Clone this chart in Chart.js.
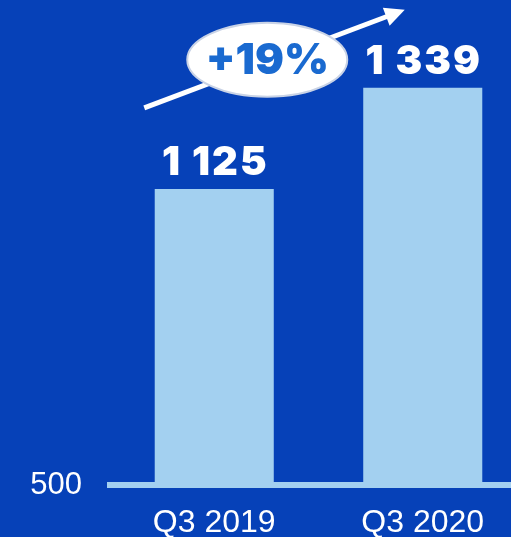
<!DOCTYPE html>
<html>
<head>
<meta charset="utf-8">
<script src="https://cdn.jsdelivr.net/npm/chart.js@4"></script>
<style>
  html, body { margin: 0; padding: 0; background: #0641b8; overflow: hidden; }
  #wrap { position: absolute; left: 0; top: 0; width: 527px; height: 560px; }
</style>
</head>
<body>
<div id="wrap"><canvas id="chartGrowth"></canvas></div>
<script>
'use strict';

var categories = ['Q3 2019', 'Q3 2020'];
var values     = [1125, 1339];
var yTicks     = [500];

var BAR_BLUE = '#a3d0f0';
var PCT_BLUE = '#1a6ad0';
var HEAVY    = '900 40px Inter, Lato, "DejaVu Sans", sans-serif';

function fmtThousands(v) {
  return String(v).replace(/\B(?=(\d{3})+(?!\d))/g, ' ');
}

/* ── value labels above the bars ───────────────────────────────── */
var valueLabels = {
  id: 'valueLabels',
  afterDatasetsDraw: function(chart) {
    var ctx = chart.ctx;
    var meta = chart.getDatasetMeta(0);
    ctx.save();
    ctx.fillStyle = '#ffffff';
    ctx.font = HEAVY;
    ctx.letterSpacing = '2px';
    ctx.textAlign = 'center';
    ctx.textBaseline = 'alphabetic';
    meta.data.forEach(function(bar, i) {
      ctx.fillText(fmtThousands(values[i]), bar.x + 1, bar.y - 14);
    });
    ctx.restore();
  }
};

/* ── growth arrow with the percentage bubble ───────────────────── */
var growthArrow = {
  id: 'growthArrow',
  afterDraw: function(chart) {
    var ctx = chart.ctx;
    var meta = chart.getDatasetMeta(0);
    var yTop = chart.scales.y.getPixelForValue(values[1]);   // top of the taller bar
    var x0 = meta.data[0].x - 70, y0 = yTop + 20;
    var x1 = meta.data[1].x - 18, y1 = yTop - 78;
    var ang = Math.atan2(y1 - y0, x1 - x0);
    var head = 22;

    ctx.save();
    ctx.strokeStyle = '#ffffff';
    ctx.fillStyle = '#ffffff';
    ctx.lineWidth = 5;
    ctx.beginPath();
    ctx.moveTo(x0, y0);
    ctx.lineTo(x1 - Math.cos(ang) * head * 0.8, y1 - Math.sin(ang) * head * 0.8);
    ctx.stroke();
    ctx.beginPath();
    ctx.moveTo(x1, y1);
    ctx.lineTo(x1 - head * Math.cos(ang - 0.45), y1 - head * Math.sin(ang - 0.45));
    ctx.lineTo(x1 - head * Math.cos(ang + 0.45), y1 - head * Math.sin(ang + 0.45));
    ctx.closePath();
    ctx.fill();

    // bubble
    var cx = meta.data[0].x + 53, cy = yTop - 28;
    ctx.beginPath();
    ctx.ellipse(cx, cy, 80, 37, 0, 0, Math.PI * 2);
    ctx.fillStyle = '#ffffff';
    ctx.fill();
    ctx.lineWidth = 2;
    ctx.strokeStyle = '#c9d3e6';
    ctx.stroke();

    var pct = Math.round((values[1] / values[0] - 1) * 100);
    ctx.fillStyle = PCT_BLUE;
    ctx.font = '900 43px Inter, Lato, "DejaVu Sans", sans-serif';
    ctx.textAlign = 'center';
    ctx.textBaseline = 'middle';
    ctx.fillText('+' + pct + '%', cx, cy + 1);
    ctx.restore();
  }
};

new Chart(document.getElementById('chartGrowth'), {
  type: 'bar',
  data: {
    labels: categories,
    datasets: [{
      data: values,
      backgroundColor: BAR_BLUE,
      borderWidth: 0,
      barPercentage: 0.571,
      categoryPercentage: 1
    }]
  },
  options: {
    responsive: true,
    maintainAspectRatio: false,
    animation: false,
    layout: { padding: { top: 12, left: 0, right: 0, bottom: 0 } },
    scales: {
      x: {
        grid: { display: false, drawTicks: false },
        border: { display: true, color: BAR_BLUE, width: 6 },
        ticks: {
          color: '#ffffff',
          padding: 19,
          font: { family: '"Liberation Sans", Arial, sans-serif', size: 32 }
        },
        afterFit: function(scale) { scale.height = 75; }
      },
      y: {
        min: 500,
        max: 1426,
        grid: { display: false, drawTicks: false },
        border: { display: false },
        afterBuildTicks: function(scale) {
          scale.ticks = yTicks.map(function(v) { return { value: v }; });
        },
        ticks: {
          color: '#ffffff',
          padding: 28,
          font: { family: '"Liberation Sans", Arial, sans-serif', size: 31 }
        },
        afterFit: function(scale) { scale.width = 110; }
      }
    },
    plugins: {
      legend: { display: false },
      tooltip: { enabled: false }
    }
  },
  plugins: [valueLabels, growthArrow]
});
</script>
</body>
</html>
